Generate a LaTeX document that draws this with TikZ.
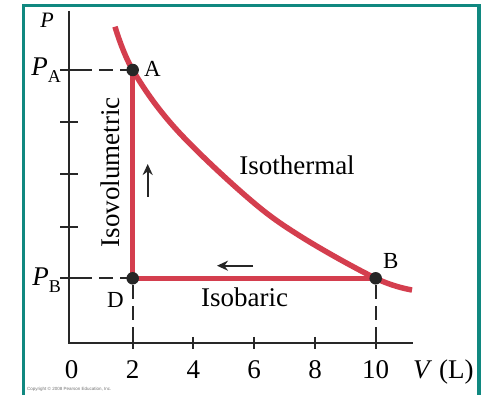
\documentclass[tikz,border=0pt]{standalone}
\usepackage{fontspec}
\setmainfont{Liberation Serif}
\newfontfamily\cpfont{Liberation Sans}
\usetikzlibrary{arrows.meta}
\definecolor{frameteal}{RGB}{16,136,128}
\definecolor{procred}{RGB}{212,62,78}
\definecolor{axisgray}{RGB}{40,40,40}
\begin{document}
\begin{tikzpicture}[x=1pt,y=-1pt,
  axisline/.style={axisgray,line width=2.4pt},
  tickline/.style={axisgray,line width=2.2pt},
  guide/.style={axisgray,line width=2pt,dash pattern=on 14pt off 7pt},
  process/.style={procred,line width=5.5pt},
  statedot/.style={circle,fill=black!85,inner sep=0pt,minimum size=12.5pt},
  biglabel/.style={font=\fontsize{27}{27}\selectfont,inner sep=0pt},
  ptlabel/.style={font=\fontsize{23}{23}\selectfont,inner sep=0pt,anchor=base west},
  dirarrow/.style={black!85,line width=2.2pt,-{Stealth[length=11pt,width=10pt]}}
]
\useasboundingbox (0,0) rectangle (482,395);
\fill[white] (0,0) rectangle (482,395);
\draw[frameteal,line width=3.2pt] (23.5,5.5) rectangle (479,430);

% axes
\coordinate (O) at (69,343);
\coordinate (ytop) at (69,11);
\coordinate (xend) at (413,343);
\draw[axisline] (ytop) -- (O) -- (xend);
\foreach \y in {70,121.7,174.3,226.7,278.3} \draw[tickline] (60,\y) -- (78,\y);
\foreach \x in {132.7,193.3,254,315,375.7} \draw[tickline] (\x,337) -- (\x,349);

% state points
\coordinate (Ac) at (132.7,70);
\coordinate (Dc) at (132.7,278.3);
\coordinate (Bc) at (375.7,278.3);

% guide dashes
\coordinate (tA) at (78,70);
\coordinate (tB) at (78,278.3);
\coordinate (bD) at (132.7,337);
\coordinate (bB) at (375.7,337);
\draw[guide] (tA) -- (Ac);
\draw[guide] (tB) -- (Dc);
\draw[guide] (Dc) ++(0,7) -- (bD);
\draw[guide] (Bc) ++(0,7) -- (bB);

% processes
\draw[process] (Ac) -- (Dc) -- (Bc);
\draw[process] plot[smooth,tension=0.6] coordinates {(115,26.7) (Ac) (175,128) (247,197) (300,236) (Bc) (412,290)};

\node[statedot] (A) at (Ac) {};
\node[statedot] (D) at (Dc) {};
\node[statedot] (B) at (Bc) {};

% direction arrows
\coordinate (upS) at (147.7,197);
\coordinate (upE) at (147.7,164);
\draw[dirarrow] (upS) -- (upE);
\coordinate (lfS) at (253,265.7);
\coordinate (lfE) at (217,265.7);
\draw[dirarrow] (lfS) -- (lfE);

% labels
\node[biglabel,anchor=base] (isoth) at (297,175) {Isothermal};
\node[biglabel,anchor=base] (isob) at (244.7,306.7) {Isobaric};
\node[biglabel,anchor=base,rotate=90] (isov) at (119,172.5) {Isovolumetric};
\node[ptlabel] (lA) at (144,77) {A};
\node[ptlabel] (lB) at (383,269) {B};
\node[ptlabel] (lD) at (107,308) {D};
\node[biglabel,anchor=base east] (lPA) at (61,76) {\textit{P}\raisebox{-7pt}{\fontsize{18}{18}\selectfont A}};
\node[biglabel,anchor=base east] (lPB) at (61,285.7) {\textit{P}\raisebox{-7pt}{\fontsize{18}{18}\selectfont B}};
\node[font=\fontsize{22}{22}\selectfont\itshape,anchor=base,inner sep=0pt] (lP) at (47,28) {P};
\foreach \x/\t in {71.7/0,132.7/2,193.3/4,254/6,315/8,375.7/10}
  \node[biglabel,anchor=base] (n\t) at (\x,378) {\t};
\node[biglabel,anchor=base west] (lV) at (413,378) {\textit{V} (L)};
\node[font=\cpfont\fontsize{4.5}{4.5}\selectfont,text=black!55,anchor=base west,inner sep=0pt] (copy) at (27,390) {Copyright © 2008 Pearson Education, Inc.};
\end{tikzpicture}
\end{document}
